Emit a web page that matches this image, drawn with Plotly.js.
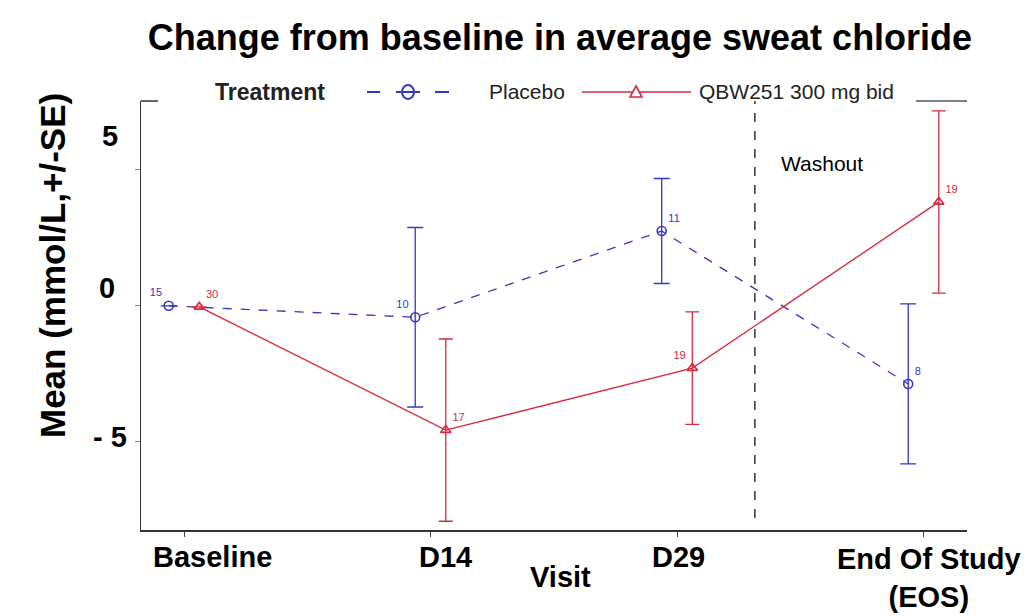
<!DOCTYPE html>
<html>
<head>
<meta charset="utf-8">
<script src="https://cdn.plot.ly/plotly-3.0.1.min.js"></script>
<style>html,body{margin:0;padding:0;background:#fff;}#chart{width:1025px;height:616px;}</style>
</head>
<body>
<div id="chart"></div>
<script>
// ---- data ----
const visits = ["Baseline", "D14", "D29", "End Of Study<br>(EOS)"];
const seriesNames = ["Placebo", "QBW251 300 mg bid"];
const placeboMean = [-0.03, -0.45, 2.72, -2.90];
const placeboSE   = [0, 3.30, 1.93, 2.94];
const placeboN    = ["15", "10", "11", "8"];
const qbwMean = [-0.07, -4.60, -2.32, 3.79];
const qbwSE   = [0, 3.35, 2.07, 3.35];
const qbwN    = ["30", "17", "19", "19"];
const yTickVals = [-5, 0, 5];
const yTickText = ["- 5", "0", "5"];
const washoutAt = 2.316;

// ---- styling / layout ----
const blue = "#3535c8";
const red = "#d8283f";
const idx = visits.map((v, i) => i);
const off = 0.062;
const FONT = "Liberation Sans, Arial, sans-serif";

const traces = [
  {
    name: seriesNames[0],
    x: idx.map(i => i - off), y: placeboMean,
    mode: "lines+markers+text",
    text: placeboN,
    textposition: ["top left", "top left", "top right", "top right"],
    textfont: {family: FONT, size: 11, color: blue},
    line: {color: blue, width: 1.3, dash: "dash"},
    marker: {symbol: "circle-open", size: 9, color: blue, line: {width: 1.6, color: blue}},
    error_y: {type: "data", array: placeboSE, visible: true, color: blue, thickness: 1.3, width: 8},
    cliponaxis: false
  },
  {
    name: seriesNames[1],
    x: idx.map(i => i + off), y: qbwMean,
    mode: "lines+markers+text",
    text: qbwN,
    textposition: ["top right", "top right", "top left", "top right"],
    textfont: {family: FONT, size: 11, color: red},
    line: {color: red, width: 1.3},
    marker: {symbol: "triangle-up-open", size: 9, color: red, line: {width: 1.6, color: red}},
    error_y: {type: "data", array: qbwSE, visible: true, color: red, thickness: 1.3, width: 7},
    cliponaxis: false
  }
];

const L = 141, R = 967, T = 101, B = 530, W = 1025, H = 616;
const px = x => (x - L) / (R - L);
const py = y => (B - y) / (B - T);

const annotations = [];
// category labels
const catPix = [[212, 557], [445, 557], [678, 557], [929, 578]];
visits.forEach((v, i) => {
  annotations.push({
    text: "<b>" + v + "</b>", xref: "paper", yref: "paper", x: px(catPix[i][0]), y: py(catPix[i][1]),
    showarrow: false, xanchor: "center", yanchor: "middle",
    font: {family: FONT, size: 29, color: "#000"}
  });
});
// big y labels
const yLabPix = [[110, 437], [107, 288], [110, 136]];
yTickText.forEach((t, i) => {
  annotations.push({
    text: "<b>" + t + "</b>", xref: "paper", yref: "paper", x: px(yLabPix[i][0]), y: py(yLabPix[i][1]),
    showarrow: false, xanchor: "center", yanchor: "middle",
    font: {family: FONT, size: 29, color: "#000"}
  });
});
annotations.push({
  text: "<b>Visit</b>", xref: "paper", yref: "paper", x: px(560), y: py(577),
  showarrow: false, xanchor: "center", yanchor: "middle",
  font: {family: FONT, size: 29, color: "#000"}
});
annotations.push({
  text: "<b>Mean (mmol/L,+/-SE)</b>", xref: "paper", yref: "paper", x: px(52), y: py(266),
  showarrow: false, xanchor: "center", yanchor: "middle", textangle: -90,
  font: {family: FONT, size: 35, color: "#000"}
});
annotations.push({
  text: "Washout", xref: "paper", yref: "paper", x: px(822), y: py(163),
  showarrow: false, xanchor: "center", yanchor: "middle",
  font: {family: FONT, size: 21, color: "#000"}
});
// custom legend texts
annotations.push({
  text: "<b>Treatment</b>", xref: "paper", yref: "paper", x: px(213), y: py(92),
  showarrow: false, xanchor: "left", yanchor: "middle",
  font: {family: FONT, size: 23, color: "#222"}
});
annotations.push({
  text: seriesNames[0], xref: "paper", yref: "paper", x: px(487), y: py(92),
  showarrow: false, xanchor: "left", yanchor: "middle",
  font: {family: FONT, size: 21, color: "#222"}
});
annotations.push({
  text: seriesNames[1], xref: "paper", yref: "paper", x: px(697), y: py(92),
  showarrow: false, xanchor: "left", yanchor: "middle",
  font: {family: FONT, size: 21, color: "#222"}
});

const ly = py(92);
const shapes = [
  {type: "line", xref: "x", yref: "paper", x0: washoutAt, x1: washoutAt, y0: py(518), y1: 1,
   line: {color: "#000", width: 1.2, dash: "dash"}},
  {type: "line", xref: "paper", yref: "paper", x0: 0, x1: px(158), y0: 1, y1: 1,
   line: {color: "#333", width: 1.5}},
  {type: "line", xref: "paper", yref: "paper", x0: px(916), x1: 1, y0: 1, y1: 1,
   line: {color: "#555", width: 1.5}},
  // legend: placebo glyph
  {type: "line", xref: "paper", yref: "paper", x0: px(367), x1: px(380), y0: ly, y1: ly, line: {color: blue, width: 2}},
  {type: "line", xref: "paper", yref: "paper", x0: px(396), x1: px(420), y0: ly, y1: ly, line: {color: blue, width: 2}},
  {type: "line", xref: "paper", yref: "paper", x0: px(435), x1: px(449), y0: ly, y1: ly, line: {color: blue, width: 2}},
  {type: "circle", xref: "paper", yref: "paper", xsizemode: "pixel", ysizemode: "pixel",
   xanchor: px(408), yanchor: ly, x0: -6, x1: 6, y0: -7, y1: 7, line: {color: blue, width: 2}},
  // legend: QBW glyph
  {type: "line", xref: "paper", yref: "paper", x0: px(582), x1: px(691), y0: ly, y1: ly, line: {color: red, width: 1.6}},
  {type: "path", xref: "paper", yref: "paper", xsizemode: "pixel", ysizemode: "pixel",
   xanchor: px(636), yanchor: ly, path: "M -6 -5 L 6 -5 L 0 6 Z", fillcolor: "#fff", line: {color: red, width: 1.6}}
];

const layout = {
  width: W, height: H,
  margin: {l: L, r: W - R, t: T, b: H - B},
  paper_bgcolor: "#fff", plot_bgcolor: "#fff",
  title: {
    text: "<b>Change from baseline in average sweat chloride</b>",
    xref: "paper", x: px(560), xanchor: "center",
    yref: "container", y: 1 - 37 / H, yanchor: "middle",
    font: {family: FONT, size: 36, color: "#000"}
  },
  xaxis: {
    range: [(L - 184) / 246.5, (R - 184) / 246.5],
    tickvals: idx, ticktext: visits.map(() => ""),
    ticks: "outside", ticklen: 5, tickcolor: "#444", tickwidth: 1,
    showline: true, linecolor: "#333", linewidth: 1.5,
    showgrid: false, zeroline: false, fixedrange: true
  },
  yaxis: {
    range: [-(B - 305) / 27.2, (305 - T) / 27.2],
    tickvals: yTickVals, ticktext: yTickVals.map(() => ""),
    ticks: "outside", ticklen: 5, tickcolor: "#888", tickwidth: 1,
    showline: true, linecolor: "#333", linewidth: 1.5,
    showgrid: false, zeroline: false, fixedrange: true
  },
  showlegend: false,
  shapes: shapes,
  annotations: annotations
};

Plotly.newPlot("chart", traces, layout, {displayModeBar: false, staticPlot: true});
</script>
</body>
</html>
